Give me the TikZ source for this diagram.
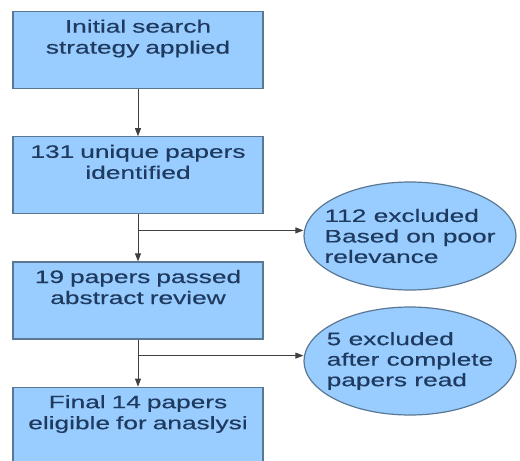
\documentclass[tikz,border=0pt]{standalone}
\usepackage{fontspec}
\usepackage{tikz}
\usetikzlibrary{positioning, shapes.geometric, arrows.meta}
\newfontfamily\flowfont[FakeStretch=1.46, FakeBold=0.4]{Liberation Sans}
\definecolor{boxfill}{HTML}{99CCFF}
\definecolor{boxline}{HTML}{5A7894}
\definecolor{boxtext}{HTML}{1F3A5F}

\begin{document}
\begin{tikzpicture}[x=1pt, y=-1pt, node distance={47pt}, >={Triangle[length=8pt,width=6pt]},
	main/.style = {draw=boxline, line width=1.2pt, fill=boxfill, text=boxtext, font=\flowfont\fontsize{18pt}{21pt}\selectfont, text width=236pt, align=center, inner xsep=7pt, inner ysep=7pt, text height=14pt, text depth=49pt},
	side/.style = {draw=boxline, line width=1.2pt, fill=boxfill, text=boxtext, font=\flowfont\fontsize{18pt}{20.5pt}\selectfont, ellipse, align=left, inner xsep=-30pt, inner ysep=-15pt, minimum width=212pt, minimum height=108pt}]
		\useasboundingbox (0,0) rectangle (520,461);
		\node[main, anchor=north] (1) at (138,11) {Initial search\\strategy applied};
		\node[main] (2) [below=of 1] {131 unique papers\\identified};
		\node[main] (3) [below=of 2] {19 papers passed\\abstract review};
		\node[main] (4) [below=of 3] {Final 14 papers\\eligible for anaslysi};
		\node[side] (5) at (410,236) {112 excluded\\Based on poor\\relevance};
		\node[side] (6) at (410,361) {5 excluded\\after complete\\papers read};
		\coordinate[below=16pt of 2] (7);
		\coordinate[below=16pt of 3] (8);
		
		\draw[->, line width=0.8pt, black!75] (1) -- (2);
		\draw[->, line width=0.8pt, black!75] (2) -- (3);
		\draw[->, line width=0.8pt, black!75] (3) -- (4);
		\draw[->, line width=0.8pt, black!75] (7) -- (7 -| 5.west);
		\draw[->, line width=0.8pt, black!75] (8) -- (8 -| 6.west);
	\end{tikzpicture}
\end{document}
